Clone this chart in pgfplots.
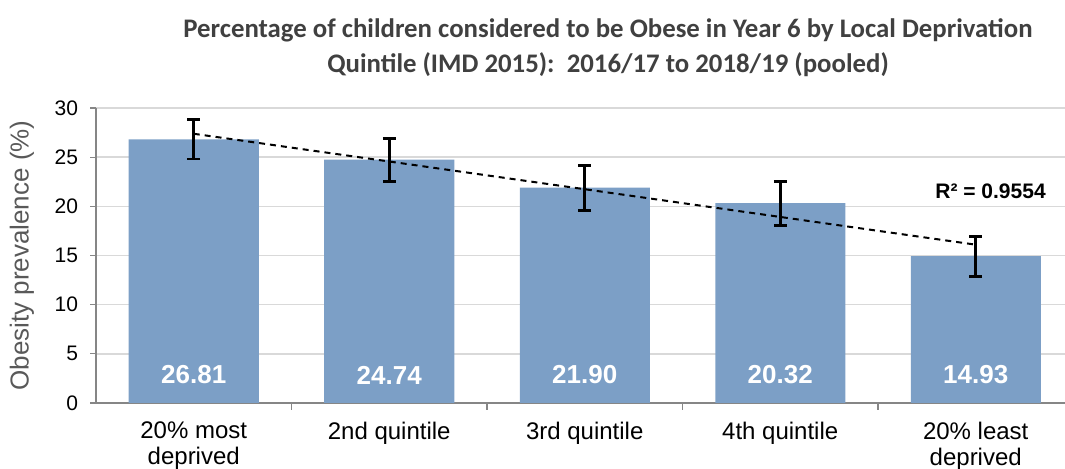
\documentclass[border=0pt]{standalone}
\usepackage{fontspec}
\setmainfont{Liberation Sans}
\newfontfamily\titlefont{Carlito}
\usepackage{pgfplots}
\usepackage{pgfplotstable}
\pgfplotsset{compat=1.18}

\definecolor{barblue}{HTML}{7C9FC6}
\definecolor{gridgrey}{HTML}{D9D9D9}
\definecolor{axisgrey}{HTML}{868686}
\definecolor{labelgrey}{HTML}{595959}
\definecolor{titlegrey}{HTML}{404040}

% quintile, prevalence (%), half-width of 95% CI
\pgfplotstableread{
x val err
0 26.81 2.00
1 24.74 2.19
2 21.90 2.29
3 20.32 2.24
4 14.93 2.04
}\obesity

% linear trend through the five quintiles
\pgfplotstableread{
x trend
0 27.38
4 16.10
}\trend

\begin{document}
\begin{tikzpicture}
\useasboundingbox (-48bp,-33bp) rectangle (484.5bp,201.5bp);
\begin{axis}[
    scale only axis,
    width=488.75bp, height=147.5bp,
    xmin=-0.5, xmax=4.5,
    ymin=0, ymax=30,
    ytick={0,5,...,30},
    xtick={0,1,2,3,4},
    xticklabels={20\% most\\deprived, 2nd quintile, 3rd quintile, 4th quintile, 20\% least\\deprived},
    extra x ticks={0.5,1.5,2.5,3.5},
    extra x tick labels={},
    extra x tick style={major tick length=3.5bp, grid=none, x tick style={draw=axisgrey}},
    axis lines=left,
    axis line style={-, axisgrey, line width=0.6bp},
    tick align=outside,
    tick style={axisgrey, line width=0.6bp},
    major tick length=3bp,
    x tick style={draw=none},
    ymajorgrids=true,
    grid style={gridgrey, line width=0.8bp},
    /pgf/number format/assume math mode=true,
    yticklabel style={font=\fontsize{10.5bp}{12bp}\selectfont, black, xshift=-2.5bp},
    xticklabel style={font=\fontsize{12bp}{13bp}\selectfont, black, align=center, yshift=-3bp},
    every axis y label/.style={at={(axis description cs:-0.0757,0.5)}, rotate=90, anchor=center},
    ylabel={Obesity prevalence (\%)},
    ylabel style={font=\fontsize{13bp}{15bp}\selectfont, labelgrey},
    title={Percentage of children considered to be Obese in Year 6 by Local Deprivation\\Quintile (IMD 2015):\ \ 2016/17 to 2018/19 (pooled)},
    title style={at={(axis description cs:0.5238,1)}, anchor=center, yshift=24bp,
        align=center, font=\titlefont\bfseries\fontsize{13.4bp}{17.5bp}\selectfont, text=titlegrey},
]
\addplot[ybar, bar width=65bp, fill=barblue, draw=none,
    error bars/.cd, y dir=both, y explicit,
    error mark=|,
    error bar style={black, solid, line width=1.5bp},
    error mark options={black, mark size=3.2bp, line width=1.4bp}]
    table[x=x, y=val, y error=err] {\obesity};

\addplot[black, line width=1bp, dash pattern=on 3bp off 2.5bp, mark=none]
    table[x=x, y=trend] {\trend};

\addplot[draw=none, mark=none,
    nodes near coords={\pgfmathprintnumber[fixed, fixed zerofill, precision=2]{\pgfplotspointmeta}},
    point meta=explicit,
    every node near coord/.style={anchor=center, text=white,
        font=\bfseries\fontsize{13bp}{15bp}\selectfont}]
    table[x=x, y expr=2.85, meta=val] {\obesity};

\node[anchor=east, inner sep=0pt, font=\bfseries\fontsize{10.5bp}{12bp}\selectfont]
    at (axis cs:4.36,21.5) {R² = 0.9554};
\end{axis}
\end{tikzpicture}
\end{document}
